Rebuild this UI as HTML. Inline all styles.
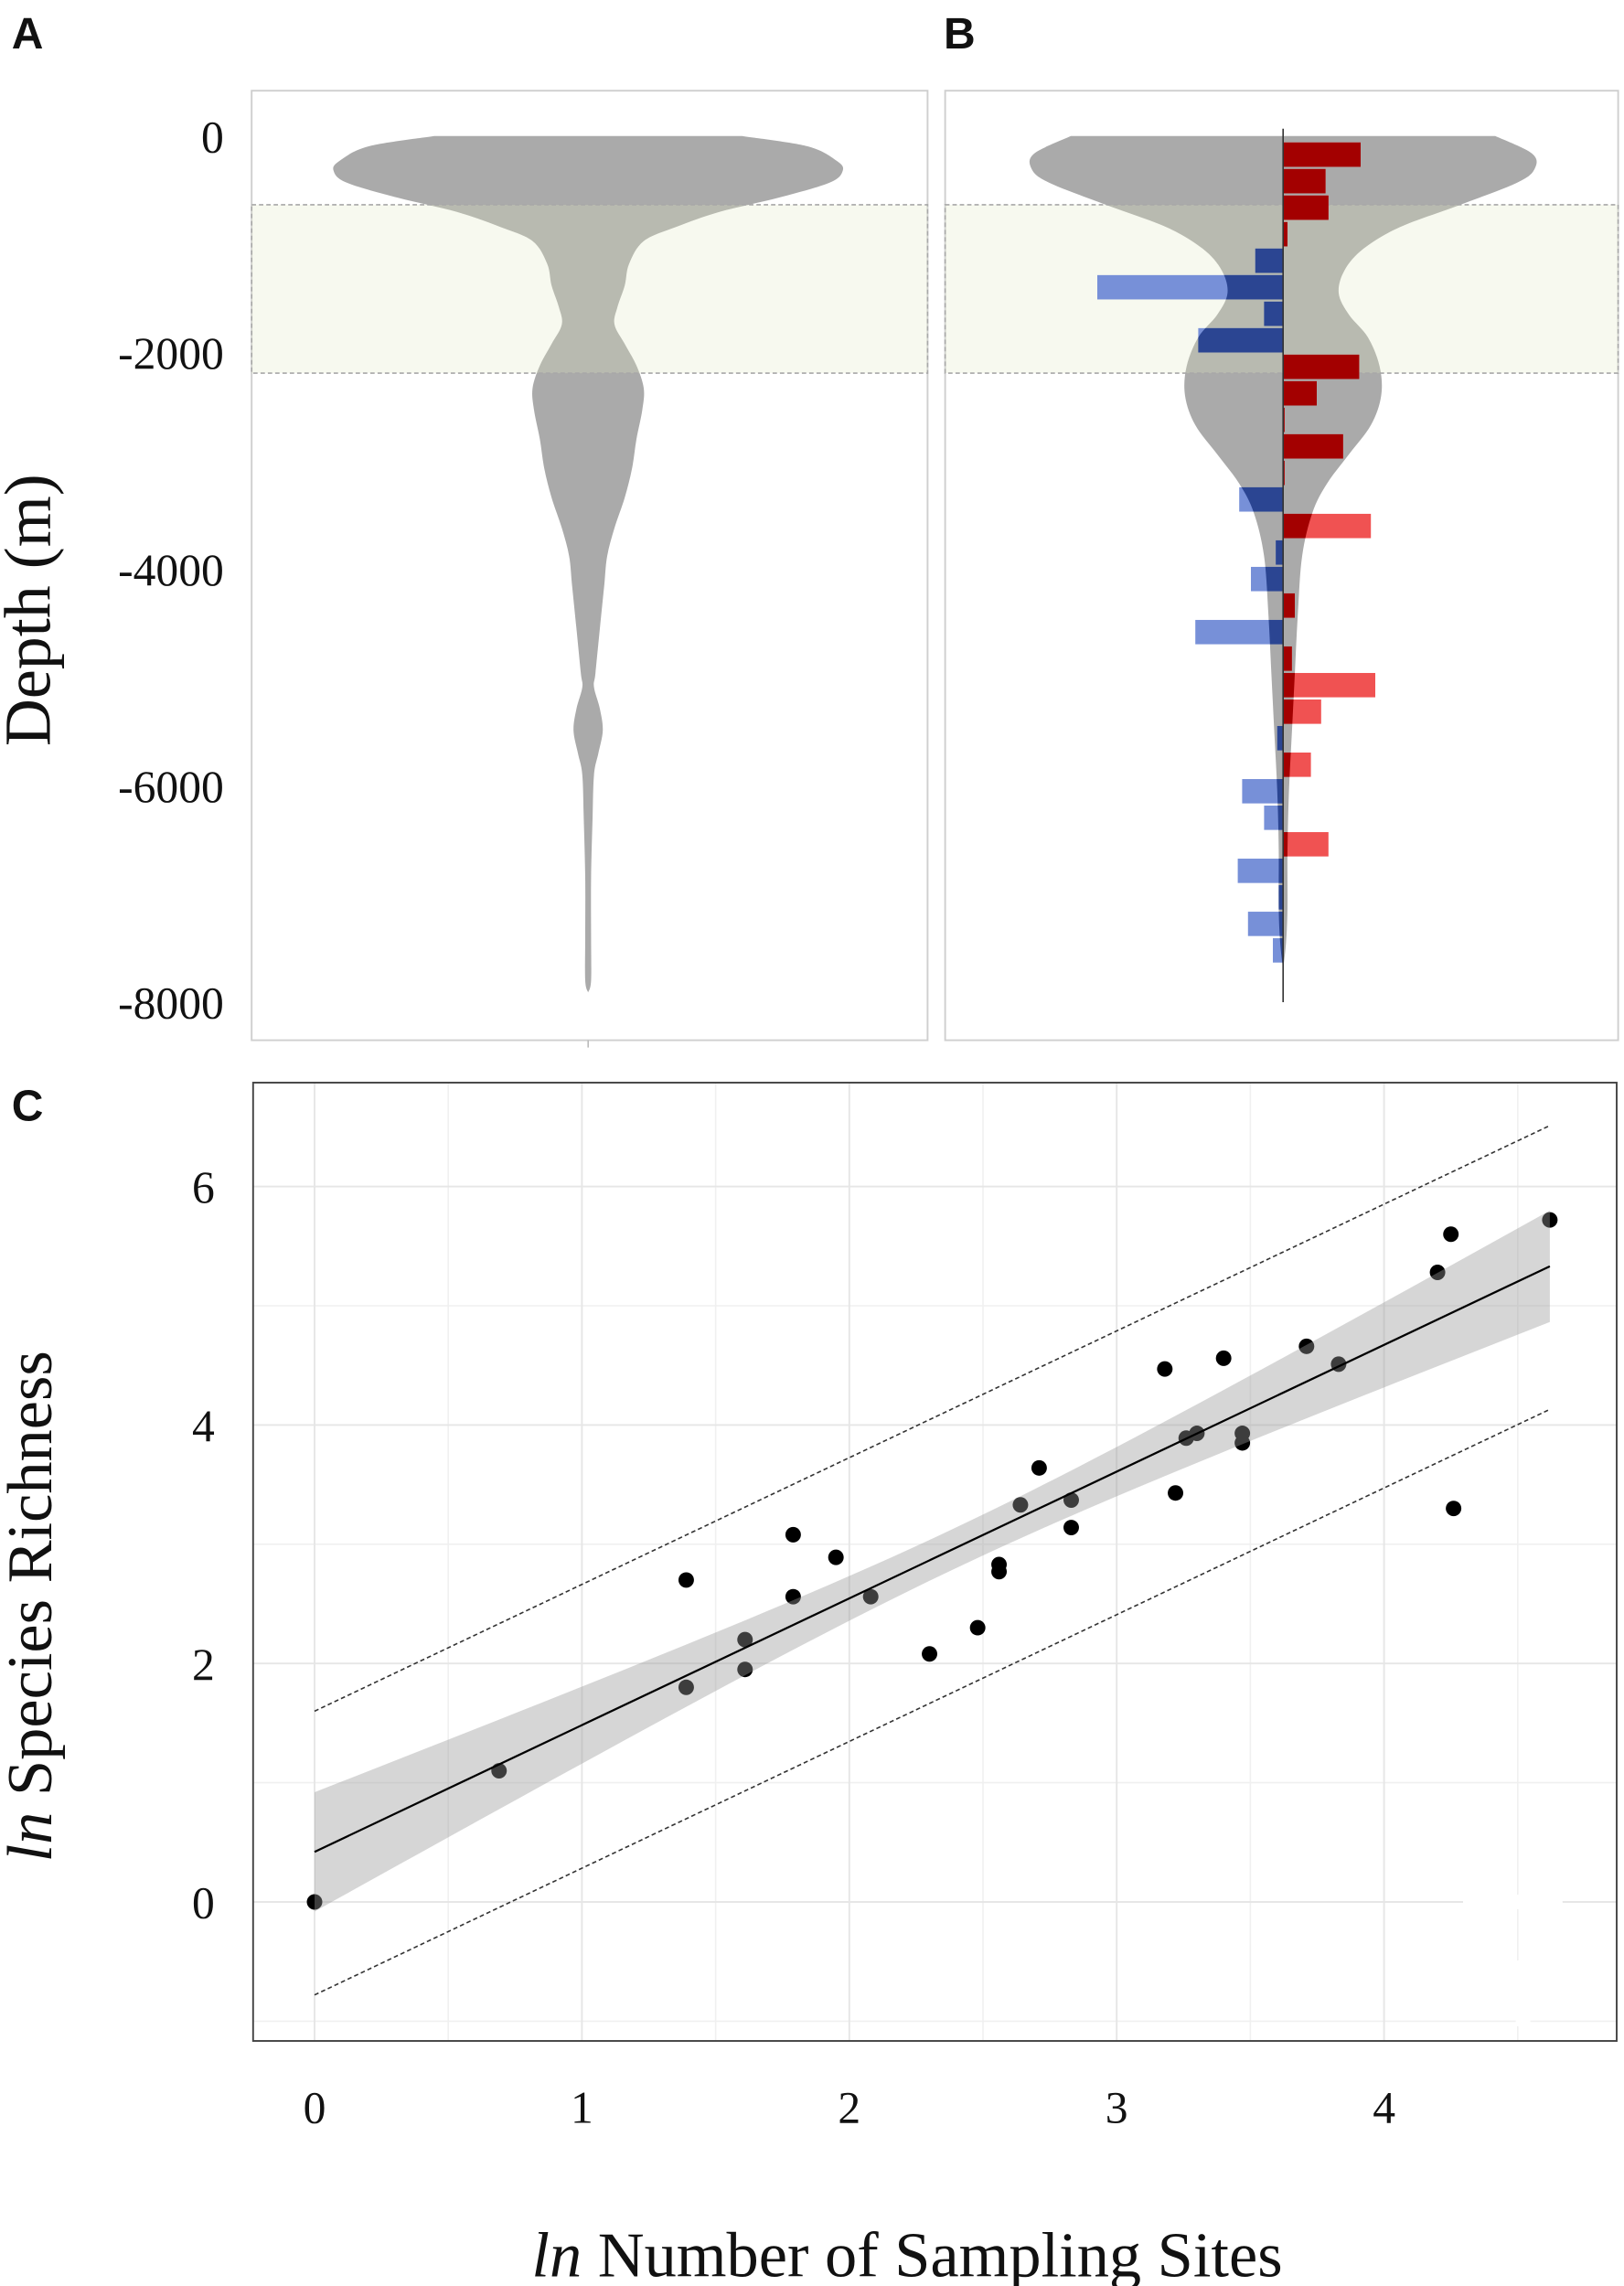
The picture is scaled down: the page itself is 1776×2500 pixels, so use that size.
<!DOCTYPE html>
<html><head><meta charset="utf-8"><style>
html,body{margin:0;padding:0;background:#fff;}
svg{display:block;}
text{font-family:"Liberation Serif",serif;fill:#111;}
.lbl{font-family:"Liberation Sans",sans-serif;font-weight:bold;}
</style></head><body>
<svg id="fig" width="1776" height="2500" viewBox="0 0 1110 1562.5" xmlns="http://www.w3.org/2000/svg">
<rect width="1110" height="1562.5" fill="#fff"/>
<text class="lbl" x="8" y="33" font-size="30">A</text>
<text class="lbl" x="645" y="33" font-size="30">B</text>
<text class="lbl" x="8" y="766" font-size="30">C</text>
<rect x="172" y="62" width="462" height="649" fill="none" stroke="#cfcfcf" stroke-width="1.2"/>
<rect x="646" y="62" width="460" height="649" fill="none" stroke="#cfcfcf" stroke-width="1.2"/>
<g id="gA"></g>
<g id="gB"></g>
<g id="yaxAB"></g>
<text transform="translate(34,417) rotate(-90)" text-anchor="middle" font-size="45">Depth (m)</text>
<g id="gC"></g>
<text transform="translate(35,1098) rotate(-90)" text-anchor="middle" font-size="44"><tspan font-style="italic">ln</tspan> Species Richness</text>
<text x="620" y="1556" text-anchor="middle" font-size="44"><tspan font-style="italic">ln</tspan> Number of Sampling Sites</text>
</svg>
<script>
// ---------- Data: panels A & B ----------
const depthTicks = [0, -2000, -4000, -6000, -8000];
const violinADepth = [0,-95,-230,-320,-430,-570,-700,-840,-970,-1180,-1380,-1580,-1740,-1920,-2120,-2330,-2530,-2800,-3070,-3340,-3620,-3880,-4150,-4550,-4960,-5090,-5290,-5490,-5700,-5900,-6310,-6850,-7390,-7800,-7910];
const violinAWidth = [105,150,170,174,165,130,90,60,38,28,25,20,18,25,33,38,37,33,30,25,18,13,11,8,5,4,8,10,7,4,3,2,2,2,0];
const violinBDepth = [0,-160,-300,-430,-640,-840,-1040,-1240,-1450,-1650,-1860,-2130,-2400,-2670,-2940,-3210,-3480,-3880,-4430,-4970,-5510,-6050,-6590,-7130,-7450,-7700];
const violinBWidth = [145,170,172,160,120,80,55,42,38,45,58,66,67,60,45,30,20,13,10,8,6,4,3,3,2,0];
const bandTop = -635, bandBottom = -2190;
const binStart = -175, binSize = 245;
const changeValues = [10.6,5.8,6.2,0.6,-3.8,-25.4,-2.6,-11.6,10.4,4.6,0.2,8.2,0.2,-6,12,-1,-4.4,1.6,-12,1.2,12.6,5.2,-0.8,3.8,-5.6,-2.6,6.2,-6.2,-0.6,-4.8,-1.4];

// ---------- Data: panel C ----------
const xVals = [0,0.69,1.39,1.39,1.61,1.61,1.79,1.79,1.95,2.08,2.30,2.48,2.56,2.56,2.64,2.71,2.83,2.83,3.18,3.22,3.26,3.30,3.40,3.47,3.47,3.71,3.83,4.20,4.25,4.26,4.62];
const yVals = [0,1.1,2.7,1.8,2.2,1.95,3.08,2.56,2.89,2.56,2.08,2.30,2.83,2.77,3.33,3.64,3.37,3.14,4.47,3.43,3.89,3.93,4.56,3.93,3.85,4.66,4.51,5.28,5.60,3.30,5.72];
const xTicks = [0,1,2,3,4];
const yTicks = [0,2,4,6];
const fitIntercept = 0.42, fitSlope = 1.063;

const NS = "http://www.w3.org/2000/svg";
function mk(tag, attrs, parent){const e=document.createElementNS(NS,tag);for(const k in attrs)e.setAttribute(k,attrs[k]);parent.appendChild(e);return e;}

const yD = d => 93 - d*0.074;
const axAB = document.getElementById('yaxAB');
depthTicks.forEach(t=>{
  const e = mk('text',{x:153,y:yD(t)+11,'text-anchor':'end','font-size':31},axAB);
  e.textContent = String(t);
  
  
});

function smoothPath(pts){
  let d = `M${pts[0][0]},${pts[0][1]}`;
  for(let i=0;i<pts.length-1;i++){
    const p0=pts[Math.max(0,i-1)],p1=pts[i],p2=pts[i+1],p3=pts[Math.min(pts.length-1,i+2)];
    const c1=[p1[0]+(p2[0]-p0[0])/6,p1[1]+(p2[1]-p0[1])/6];
    const c2=[p2[0]-(p3[0]-p1[0])/6,p2[1]-(p3[1]-p1[1])/6];
    d+=` C${c1[0]},${c1[1]} ${c2[0]},${c2[1]} ${p2[0]},${p2[1]}`;
  }
  return d;
}
function violinPath(cx, depths, widths){
  const right = depths.map((d,i)=>[cx+widths[i], yD(d)]);
  const left = depths.map((d,i)=>[cx-widths[i], yD(d)]).reverse();
  let p = smoothPath(right);
  p += ' L' + left[0][0] + ',' + left[0][1];
  p += smoothPath(left).replace(/^M[^C]*/,' ');
  p += ` L${cx-widths[0]},${yD(depths[0])} Z`;
  return p;
}
function band(g, x, w){
  const r = mk('rect',{x:x,y:yD(bandTop),width:w,height:yD(bandBottom)-yD(bandTop),fill:'rgba(224,232,194,0.26)',stroke:'#a8a8a8','stroke-width':1,'stroke-dasharray':'3,2'},g);
  
  
}

// Panel A
const gA = document.getElementById('gA');
const vA = mk('path',{d:violinPath(402, violinADepth, violinAWidth), fill:'#aaaaaa'},gA);


band(gA,172,462);
mk('line',{x1:402,y1:711,x2:402,y2:716,stroke:'#bbb'},gA);

// Panel B
const gB = document.getElementById('gB');
const cxB = 877, xUnit = 5;
const vBd = violinPath(cxB, violinBDepth, violinBWidth);
const defs = mk('defs',{},gB);
const cp = mk('clipPath',{id:'vclip'},defs);
mk('path',{d:vBd},cp);
const vB = mk('path',{d:vBd, fill:'#aaaaaa'},gB);


band(gB,646,460);
const lightG = mk('g',{},gB);
const darkG = mk('g',{'clip-path':'url(#vclip)'},gB);
changeValues.forEach((v,i)=>{
  const top = yD(binStart - i*binSize) - binSize*0.074/2 + 0.5;
  const h = binSize*0.074 - 1.5;
  const x = v>=0 ? cxB : cxB + v*xUnit;
  const w = Math.max(Math.abs(v)*xUnit, 0.8);
  const b = mk('rect',{x:x,y:top,width:w,height:h,fill: v>=0?'#f05252':'#7790d8'},lightG);
  
  
  mk('rect',{x:x,y:top,width:w,height:h,fill: v>=0?'#a30000':'#2b4592'},darkG);
});
const ax = mk('line',{x1:cxB,y1:88,x2:cxB,y2:685,stroke:'#333','stroke-width':1},gB);



// Panel C
const gC = document.getElementById('gC');
const sx = x => 215 + x*182.75;
const sy = y => 1300 - y*81.5;
[-1,1,3,5].forEach(t=>mk('line',{x1:173,x2:1105,y1:sy(t),y2:sy(t),stroke:'#f0f0f0','stroke-width':1},gC));
[0.5,1.5,2.5,3.5,4.5].forEach(t=>mk('line',{x1:sx(t),x2:sx(t),y1:740,y2:1395,stroke:'#f0f0f0','stroke-width':1},gC));
yTicks.forEach(t=>mk('line',{x1:173,x2:1105,y1:sy(t),y2:sy(t),stroke:'#e6e6e6','stroke-width':1.2},gC));
xTicks.forEach(t=>mk('line',{x1:sx(t),x2:sx(t),y1:740,y2:1395,stroke:'#e6e6e6','stroke-width':1.2},gC));
mk('rect',{x:1000,y:1295,width:68,height:10,fill:'#fff'},gC);
mk('rect',{x:1036,y:1340,width:10,height:45,fill:'#fff'},gC);
const fr = mk('rect',{x:173,y:740,width:932,height:655,fill:'none',stroke:'#444','stroke-width':1.2},gC);


xTicks.forEach(t=>{
  const e = mk('text',{x:sx(t),y:1451,'text-anchor':'middle','font-size':31},gC);
  e.textContent = String(t);
  
  
});
yTicks.forEach(t=>{
  const e = mk('text',{x:139,y:sy(t)+11,'text-anchor':'middle','font-size':31},gC);
  e.textContent = String(t);
  
  
});
xVals.forEach((x,i)=>{
  const c = mk('circle',{cx:sx(x),cy:sy(yVals[i]),r:5.3,fill:'#000'},gC);
  
  
});
const xm = 2.4, ciA = 0.029, ciB = 0.0384, piHalf = 1.18;
const fit = x => fitIntercept + fitSlope*x;
const ci = x => Math.sqrt(ciA + ciB*(x-xm)*(x-xm));
const xs = []; for(let i=0;i<=60;i++) xs.push(4.62*i/60);
let up = xs.map(x=>`${sx(x)},${sy(fit(x)+ci(x))}`);
let lo = xs.slice().reverse().map(x=>`${sx(x)},${sy(fit(x)-ci(x))}`);
const bandC = mk('polygon',{points:up.concat(lo).join(' '),fill:'rgba(153,153,153,0.4)'},gC);


const fl = mk('line',{x1:sx(0),y1:sy(fit(0)),x2:sx(4.62),y2:sy(fit(4.62)),stroke:'#000','stroke-width':1.4},gC);


[piHalf,-piHalf-0.02].forEach(h=>{
  const l = mk('line',{x1:sx(0),y1:sy(fit(0)+h),x2:sx(4.62),y2:sy(fit(4.62)+h),stroke:'#333','stroke-width':1,'stroke-dasharray':'3,2'},gC);
  
  
});
</script>
</body></html>
